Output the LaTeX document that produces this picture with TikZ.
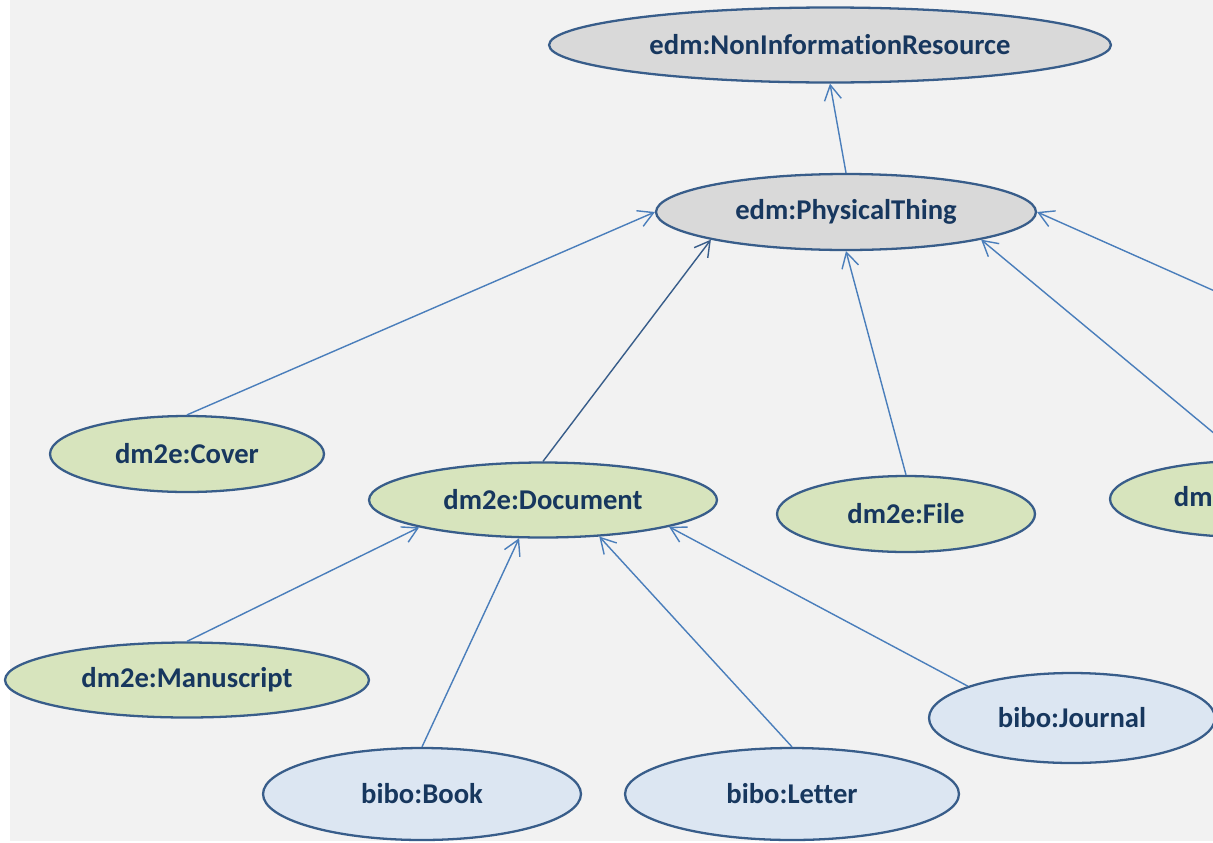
\documentclass[tikz,border=0pt]{standalone}
\usepackage{fontspec}
\setmainfont{Carlito}[Ligatures=NoCommon]
\usetikzlibrary{arrows.meta,shapes.geometric}
\definecolor{bgcol}{HTML}{F2F2F2}
\definecolor{bordercol}{HTML}{385D8A}
\definecolor{edgecol}{HTML}{4A7EBB}
\definecolor{textcol}{HTML}{17375E}
\definecolor{grayfill}{HTML}{D9D9D9}
\definecolor{greenfill}{HTML}{D7E4BD}
\definecolor{bluefill}{HTML}{DCE6F2}
\begin{document}
\begin{tikzpicture}
[x=0.02cm,y=-0.02cm,
  classdecorate/.style={shape=ellipse,inner sep=0pt,draw=bordercol,line width=1.3pt,
    text=textcol,font=\bfseries\fontsize{16.3}{19}\selectfont},%
  graydecorate/.style={classdecorate,fill=grayfill},%
  greendecorate/.style={classdecorate,fill=greenfill},%
  bluedecorate/.style={classdecorate,fill=bluefill},%
  linedecorate/.style={draw=edgecol,line width=0.8pt,-{Straight Barb[length=3mm,width=3.4mm]}}]
\useasboundingbox (0,0) rectangle (1213,842);
\clip (0,0) rectangle (1213,842);
\fill[white] (0,0) rectangle (1213,842);
\fill[bgcol] (10,0) rectangle (1213,841);
%% edm classes
\foreach \nodename/\x/\y/\w/\h/\txt in {noninfo/830/45/11.24cm/1.5cm/edm:NonInformationResource,
    phys/846/212/7.6cm/1.52cm/edm:PhysicalThing} {
  \node (\nodename) at (\x,\y) [graydecorate,minimum width=\w,minimum height=\h] {\txt};
}
%% dm2e classes
\foreach \nodename/\x/\y/\w/\h/\txt in {cover/187/454/5.48cm/1.52cm/dm2e:Cover,
    doc/543/500/6.96cm/1.5cm/dm2e:Document, file/906/514/5.16cm/1.52cm/dm2e:File,
    paper/1246/499/5.44cm/1.52cm/dm2e:Paper, manu/187/680/7.28cm/1.5cm/dm2e:Manuscript} {
  \node (\nodename) at (\x,\y) [greendecorate,minimum width=\w,minimum height=\h] {\txt};
}
%% bibo classes
\foreach \nodename/\x/\y/\w/\h/\txt in {book/422/794/6.36cm/1.84cm/bibo:Book,
    letter/792/794/6.68cm/1.84cm/bibo:Letter, journal/1072/718/5.72cm/1.8cm/bibo:Journal} {
  \node (\nodename) at (\x,\y) [bluedecorate,minimum width=\w,minimum height=\h] {\txt};
}
\coordinate (offright) at (1300,329);
%% subclass edges
\path
\foreach \startnode/\endnode in {phys.north/noninfo.south, cover.north/phys.west,
    file.north/phys.south, paper.north/phys.south east, offright/phys.east,
    manu.north/doc.south west, book.north/doc.-122, letter.north/doc.-33,
    journal.163/doc.-12} {
  (\startnode) edge[linedecorate] (\endnode)
}
  (doc.north) edge[linedecorate,draw=bordercol] (phys.south west);
\end{tikzpicture}
\end{document}
